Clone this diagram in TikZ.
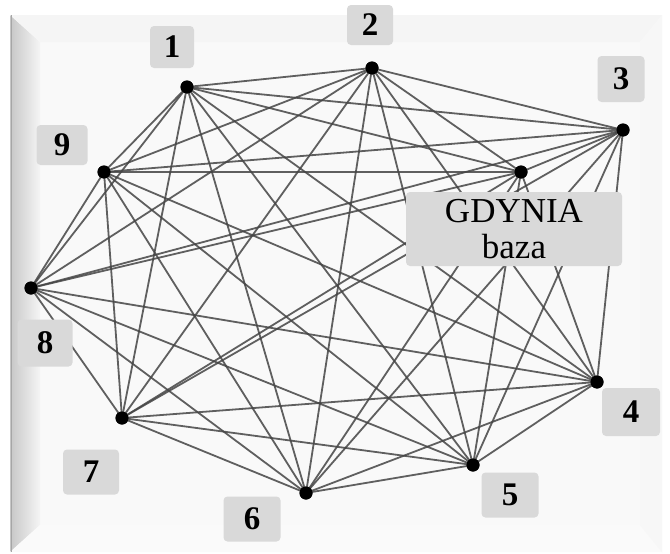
\documentclass[tikz,border=0pt]{standalone}
\usepackage{fontspec}
\setmainfont{Liberation Serif}
\definecolor{edgec}{HTML}{454545}
\definecolor{boxc}{HTML}{D9D9D9}
\definecolor{facec}{HTML}{F9F9F9}
\tikzset{
  vtx/.style={circle,fill=black,inner sep=0pt,minimum size=13pt},
  lbl/.style={fill=boxc,rounded corners=4pt,inner sep=0pt,minimum width=50pt,minimum height=44pt,font=\fontsize{33}{34}\selectfont\bfseries},
  edge/.style={draw=edgec,line width=1.8pt,opacity=0.85}
}
\begin{document}
\begin{tikzpicture}[x=1pt,y=-1pt]
\useasboundingbox (0,0) rectangle (670,554);
\fill[white] (0,0) rectangle (670,554);
% panel
\fill[facec] (10,15) rectangle (662,552);
\shade[left color=black!22,right color=black!4] (10,15) -- (40,42) -- (40,525) -- (10,552) -- cycle;
\fill[black!4] (10,15) -- (662,15) -- (640,42) -- (40,42) -- cycle;
\fill[black!2] (10,552) -- (40,525) -- (640,525) -- (662,552) -- cycle;
\fill[black!3] (662,15) -- (640,42) -- (640,525) -- (662,552) -- cycle;
\draw[black!35,line width=1pt] (11,15) -- (11,552);
% vertices
\node[vtx] (v1) at (187,87) {};
\node[vtx] (v2) at (372,68) {};
\node[vtx] (v3) at (623,130) {};
\node[vtx] (vg) at (521,172) {};
\node[vtx] (v9) at (104,172) {};
\node[vtx] (v8) at (31,288) {};
\node[vtx] (v7) at (122,418) {};
\node[vtx] (v6) at (306,493) {};
\node[vtx] (v5) at (473,465) {};
\node[vtx] (v4) at (597,382) {};
% edges: complete graph
\foreach \a/\rest in {v1/{v2,v3,vg,v9,v8,v7,v6,v5,v4},v2/{v3,vg,v9,v8,v7,v6,v5,v4},v3/{vg,v9,v8,v7,v6,v5,v4},vg/{v9,v8,v7,v6,v5,v4},v9/{v8,v7,v6,v5,v4},v8/{v7,v6,v5,v4},v7/{v6,v5,v4},v6/{v5,v4},v5/{v4}}{
  \foreach \b in \rest {\draw[edge] (\a.center) -- (\b.center);}
}
% redraw dots on top
\foreach \v in {v1,v2,v3,vg,v9,v8,v7,v6,v5,v4}{\fill[black] (\v.center) circle (6.5pt);}
% labels
\node[lbl,minimum width=44pt,minimum height=42pt] (l1) at (172,47) {1};
\node[lbl,minimum width=46pt,minimum height=40pt] (l2) at (370,25) {2};
\node[lbl,minimum width=47pt,minimum height=46pt] (l3) at (621,79) {3};
\node[lbl,minimum width=51pt,minimum height=40pt] (l9) at (62,145) {9};
\node[lbl,minimum width=216pt,minimum height=74pt,font=\fontsize{35}{36}\selectfont,align=center] (lg) at (514,229) {GDYNIA\\baza};
\node[lbl,minimum width=55pt,minimum height=47pt] (l8) at (45,343) {8};
\node[lbl,minimum width=56pt,minimum height=45pt] (l7) at (91,472) {7};
\node[lbl,minimum width=57pt,minimum height=45pt] (l6) at (252,519) {6};
\node[lbl,minimum width=57pt,minimum height=45pt] (l5) at (510,495) {5};
\node[lbl,minimum width=58pt,minimum height=48pt] (l4) at (631,412) {4};
\end{tikzpicture}
\end{document}
